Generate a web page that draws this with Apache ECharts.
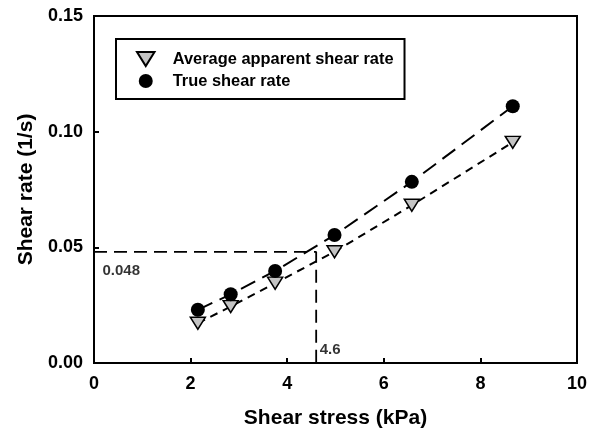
<!DOCTYPE html>
<html><head><meta charset="utf-8">
<script src="https://cdn.jsdelivr.net/npm/echarts@6/dist/echarts.min.js"></script>
<style>html,body{margin:0;padding:0;background:#fff}#c{width:599px;height:434px}</style>
</head><body><div id="c"></div>
<script>
const shearStress = [2.15, 2.83, 3.75, 4.98, 6.58, 8.67];
const apparentRate = [0.0172, 0.0244, 0.0345, 0.0481, 0.0682, 0.0954];
const trueRate = [0.0230, 0.0297, 0.0398, 0.0553, 0.0783, 0.1110];
const refStress = 4.6;
const refRate = 0.048;
const seriesNames = ['Average apparent shear rate', 'True shear rate'];
const xName = 'Shear stress (kPa)';
const yName = 'Shear rate (1/s)';

const font = 'Arial, "Liberation Sans", sans-serif';
const tri = 'path://M0,0 L10,0 L5,8 Z';
const chart = echarts.init(document.getElementById('c'), null, {renderer: 'canvas'});
const axisCommon = {
  axisLine: {show: true, lineStyle: {color: '#000', width: 2}},
  axisTick: {show: true, inside: true, length: 5, lineStyle: {color: '#000', width: 2}},
  splitLine: {show: false},
  nameLocation: 'middle',
  nameTextStyle: {fontFamily: font, fontWeight: 'bold', fontSize: 21, color: '#000'}
};
chart.setOption({
  animation: false,
  backgroundColor: '#fff',
  grid: {left: 94, right: 22, top: 16, bottom: 70, show: true, borderColor: '#000', borderWidth: 2, backgroundColor: 'transparent'},
  xAxis: Object.assign({}, axisCommon, {
    type: 'value', min: 0, max: 10, interval: 2, name: xName, nameGap: 45,
    axisLabel: {fontFamily: font, fontWeight: 'bold', fontSize: 18, color: '#000', margin: 12}
  }),
  yAxis: Object.assign({}, axisCommon, {
    type: 'value', min: 0, max: 0.15, interval: 0.05, name: yName, nameGap: 57,
    axisLabel: {fontFamily: font, fontWeight: 'bold', fontSize: 18, color: '#000', margin: 11, formatter: v => v.toFixed(2)}
  }),
  legend: {
    orient: 'vertical', left: 116, top: 39,
    data: [{name: seriesNames[0], icon: tri}, {name: seriesNames[1], icon: 'circle'}],
    itemWidth: 44, itemHeight: 14, itemGap: 6,
    padding: [12, 11, 10, 20],
    borderColor: '#000', borderWidth: 2, borderRadius: 0,
    textStyle: {fontFamily: font, fontWeight: 'bold', fontSize: 16.4, color: '#000'}
  },
  series: [
    {
      name: 'ref', type: 'line', silent: true, symbol: 'none', z: 1,
      data: [[0, refRate], [refStress, refRate], [refStress, 0]],
      lineStyle: {color: '#000', width: 1.8, type: [13, 7]}
    },
    {
      name: seriesNames[0], type: 'line', z: 3,
      data: shearStress.map((x, i) => [x, apparentRate[i]]),
      symbol: tri, symbolSize: [15, 12],
      itemStyle: {color: '#c4c4c4', borderColor: '#000', borderWidth: 1.5},
      lineStyle: {color: '#000', width: 2, type: [8, 6]}
    },
    {
      name: seriesNames[1], type: 'line', z: 4,
      data: shearStress.map((x, i) => [x, trueRate[i]]),
      symbol: 'circle', symbolSize: 14,
      itemStyle: {color: '#000', borderColor: '#000', borderWidth: 0},
      lineStyle: {color: '#000', width: 2, type: [16, 8]}
    },
    {
      name: 'refLabels', type: 'scatter', silent: true, symbolSize: 1, z: 5,
      itemStyle: {color: 'rgba(0,0,0,0)'},
      label: {show: true, fontFamily: font, fontWeight: 'bold', fontSize: 15, color: '#000', align: 'left', verticalAlign: 'middle'},
      data: [
        {value: [0, refRate], label: {position: [9, 19], formatter: refRate.toFixed(3)}},
        {value: [refStress, 0], label: {position: [4, -13], formatter: String(refStress)}}
      ]
    }
  ]
});
</script></body></html>
